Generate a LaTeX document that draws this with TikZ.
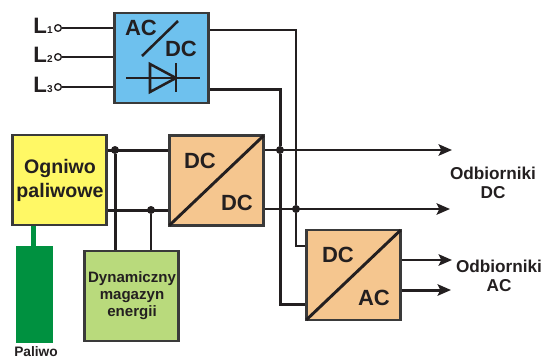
\documentclass[tikz,border=0pt]{standalone}
\usepackage{fontspec}
\setmainfont{Liberation Sans}
\usepackage{xcolor}
\usetikzlibrary{positioning, arrows.meta, calc}

\definecolor{inkc}{HTML}{231F20}
\definecolor{framec}{HTML}{3A3A3A}
\definecolor{bluec}{HTML}{6EC1EE}
\definecolor{yellowc}{HTML}{FFF865}
\definecolor{orangec}{HTML}{F5C68F}
\definecolor{greenc}{HTML}{B9DA7C}
\definecolor{fuelc}{HTML}{009140}

\begin{document}
\begin{tikzpicture}[
    x=0.75pt, y=-0.75pt,
    box/.style={rectangle, draw=framec, fill=#1, line width=2.1pt, minimum width=71pt, minimum height=67.5pt,
                inner sep=0pt, outer sep=1pt},
    tag/.style={font=\bfseries\fontsize{16.5}{18}\selectfont, text=inkc, inner sep=0pt},
    note/.style={font=\bfseries\fontsize{12.9}{14.4}\selectfont, text=inkc, align=center, inner sep=0pt},
    phase/.style={font=\bfseries\fontsize{16.7}{18}\selectfont, text=inkc, inner sep=0pt},
    term/.style={circle, draw=inkc, fill=white, line width=1pt, minimum size=5pt, inner sep=0pt},
    dot/.style={circle, fill=inkc, minimum size=6pt, inner sep=0pt},
    wire/.style={draw=inkc, line width=1.9pt},
    bus/.style={draw=inkc, line width=2.25pt},
    slant/.style={draw=inkc, line width=2.2pt, shorten <=1.5pt, shorten >=1.5pt},
    arr/.style={-{Stealth[length=10pt, width=8.5pt, inset=2pt]}},
  ]
    \useasboundingbox (0,0) rectangle (543,358);

    % Boxes
    \node[box=bluec] (acdc) at (161.5,58) {};
    \node[box=yellowc] (cell) at (59.5,180) {};
    \node[box=orangec] (dcdc) at (216.5,180.5) {};
    \node[box=greenc] (store) at (131.5,296) {};
    \node[box=orangec] (dcac) at (353.5,275) {};
    \node[rectangle, fill=fuelc, minimum width=27.75pt, minimum height=72.75pt, inner sep=0pt, outer sep=0pt] (fuel) at (34.5,294.5) {};

    % Mains terminals
    \node[term] (l1) at (58,28) {};
    \node[term] (l2) at (58,57) {};
    \node[term] (l3) at (58,87) {};
    \node[phase] at (43,26) {L\raisebox{-0.5pt}{\fontsize{7.5}{8}\selectfont 1}};
    \node[phase] at (43,55) {L\raisebox{-0.5pt}{\fontsize{7.5}{8}\selectfont 2}};
    \node[phase] at (43,85) {L\raisebox{-0.5pt}{\fontsize{7.5}{8}\selectfont 3}};

    % Box texts
    \node[tag] at (141,28) {AC};
    \node[tag] at (181,49) {DC};
    \node[font=\bfseries\fontsize{14.7}{18}\selectfont, text=inkc, align=center] at (60,180) {Ogniwo\\paliwowe};
    \node[tag] at (200,161) {DC};
    \node[tag] at (237,203) {DC};
    \node[tag] at (338,255) {DC};
    \node[tag] at (374,298) {AC};
    \node[font=\bfseries\fontsize{11.3}{12.8}\selectfont, text=inkc, align=center] at (132,296) {Dynamiczny\\magazyn\\energii};
    \node[note, font=\bfseries\fontsize{10.3}{12}\selectfont] at (36,352) {Paliwo};
    \node[note] (dcload) at (493,183) {Odbiorniki\\DC};
    \node[note] (acload) at (499,276) {Odbiorniki\\AC};

    % Free ends of the outputs
    \coordinate (dcend1) at (452,150);
    \coordinate (dcend2) at (450,209);
    \coordinate (acend1) at (452,260);
    \coordinate (acend2) at (451,290);

    % Dots
    \node[dot] (n1) at (115,150) {};
    \node[dot] (n2) at (151,210) {};
    \node[dot] (n3) at (280,150) {};
    \node[dot] (n4) at (296,209) {};

    % Mains wires
    \draw[wire] (l1) -- (l1 -| acdc.west);
    \draw[wire] (l2) -- (l2 -| acdc.west);
    \draw[wire] (l3) -- (l3 -| acdc.west);

    % Rectifier outputs
    \draw[wire] (acdc.east |- 0,30) -| (n4) |- (dcac.west |- 0,246);
    \draw[bus] (acdc.east |- 0,89) -| (n3) |- (dcac.west |- 0,304);

    % Fuel cell side
    \draw[bus] (cell.east |- n1) -- (dcdc.west |- n1);
    \draw[bus] (cell.east |- n2) -- (dcdc.west |- n2);
    \draw[bus] (n1) -- (n1 |- store.north);
    \draw[wire] (n2) -- (n2 |- store.north);
    \draw[draw=fuelc, line width=3.75pt] (fuel.north -| 33.5,0) -- (33.5,0 |- cell.south);

    % Outputs
    \draw[wire, arr] (dcdc.east |- n3) -- (dcend1);
    \draw[wire, arr] (dcdc.east |- n4) -- (dcend2);
    \draw[wire, arr] (dcac.east |- acend1) -- (acend1);
    \draw[bus, arr] (dcac.east |- acend2) -- (acend2);

    % Diagonals
    \draw[slant] (dcdc.south west) -- (dcdc.north east);
    \draw[slant] (dcac.south west) -- (dcac.north east);
    \draw[wire] (142,56) -- (178,21);

    % Diode
    \draw[wire] (126,78) -- (200,78);
    \draw[wire] (150,64) -- (150,92) -- (176,78) -- cycle;
    \draw[wire] (176,63) -- (176,92);

  \end{tikzpicture}
\end{document}
